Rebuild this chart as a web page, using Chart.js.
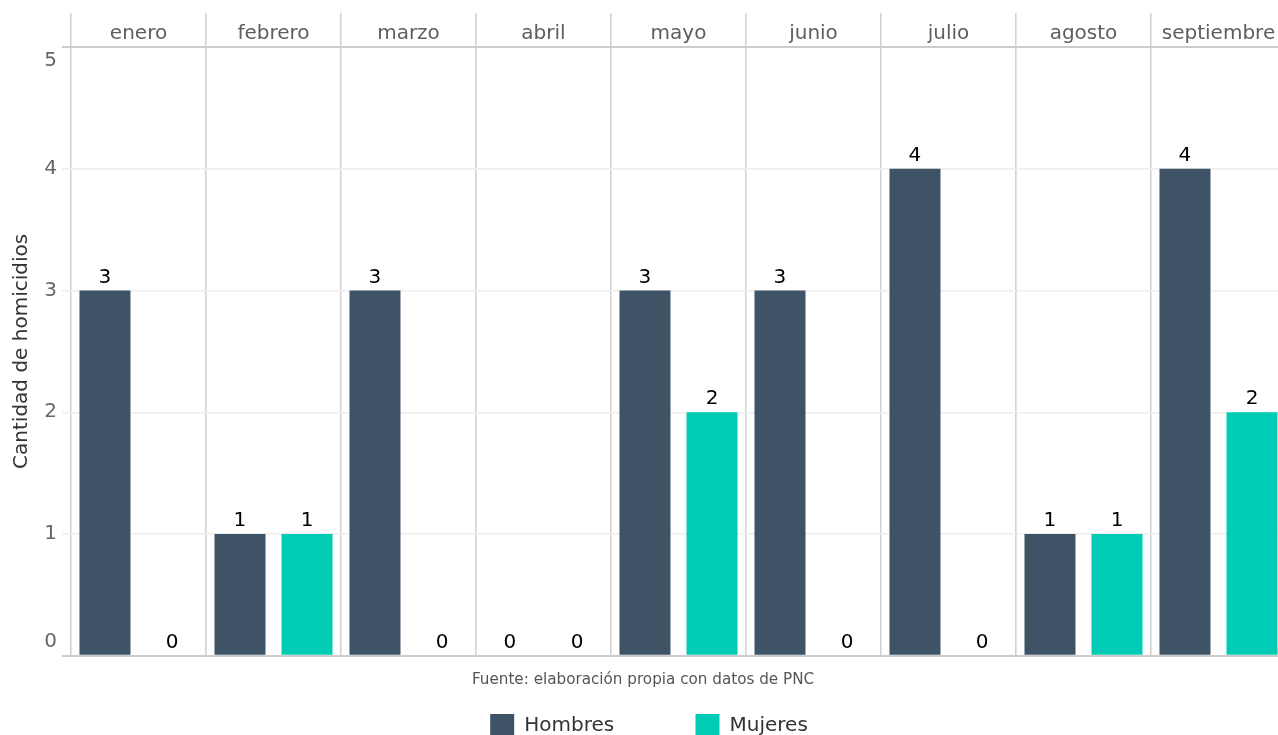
<!DOCTYPE html>
<html><head><meta charset="utf-8">
<script src="https://cdn.jsdelivr.net/npm/chart.js@4.4.0/dist/chart.umd.min.js"></script>
<style>html,body{margin:0;padding:0;overflow:hidden;background:#fff;}canvas{display:block;}</style>
</head><body>
<canvas id="c" width="1286" height="748"></canvas>
<script>
const meses = ['enero','febrero','marzo','abril','mayo','junio','julio','agosto','septiembre'];
const hombres = [3,1,3,0,3,3,4,1,4];
const mujeres = [0,1,0,0,2,0,0,1,2];
const seriesNames = ['Hombres','Mujeres'];
const seriesColors = ['#3E5366','#00CBB5'];
const yMin = 0, yMax = 5, yStep = 1;
const yTitle = 'Cantidad de homicidios';
const caption = 'Fuente: elaboración propia con datos de PNC';

const FONT = 'DejaVu Sans';
const FS = 20;

const valueLabels = {
  id: 'valueLabels',
  afterDatasetsDraw(chart) {
    const ctx = chart.ctx;
    ctx.save();
    ctx.font = FS + 'px "' + FONT + '"';
    ctx.fillStyle = '#000';
    ctx.textAlign = 'center';
    ctx.textBaseline = 'alphabetic';
    chart.data.datasets.forEach((ds, i) => {
      chart.getDatasetMeta(i).data.forEach((bar, j) => {
        ctx.fillText(String(ds.data[j]), bar.x, bar.y - 8);
      });
    });
    ctx.restore();
  }
};

const legendShift = {
  id: 'legendShift',
  afterLayout(chart) {
    if (chart.legend) { chart.legend.left += 6; chart.legend.right += 6; }
  }
};

new Chart(document.getElementById('c'), {
  type: 'bar',
  data: {
    labels: meses,
    datasets: [
      { label: seriesNames[0], data: hombres, backgroundColor: seriesColors[0], borderWidth: 0 },
      { label: seriesNames[1], data: mujeres, backgroundColor: seriesColors[1], borderWidth: 0 }
    ]
  },
  options: {
    responsive: false,
    animation: false,
    devicePixelRatio: 1,
    barPercentage: 0.761,
    categoryPercentage: 0.993,
    layout: { padding: { top: 13, left: 0, right: 0, bottom: 0 } },
    scales: {
      x: {
        type: 'category',
        position: 'top',
        offset: true,
        border: { display: false },
        grid: { offset: true, color: '#d2d2d2', lineWidth: 1.6, drawTicks: true, tickLength: 34 },
        ticks: { font: { family: FONT, size: FS }, color: '#5e5e5e', padding: -33, maxRotation: 0, autoSkip: false },
        afterFit: (s) => { s.height = 34; }
      },
      y: {
        min: yMin, max: yMax,
        border: { display: false },
        grid: {
          color: (c) => (c.tick && (c.tick.value === yMin || c.tick.value === yMax)) ? '#cccccc' : '#eeeeee',
          lineWidth: (c) => (c.tick && (c.tick.value === yMin || c.tick.value === yMax)) ? 2 : 1.5,
          tickLength: 9
        },
        ticks: {
          stepSize: yStep,
          font: { family: FONT, size: FS, lineHeight: 1.35 },
          color: '#666666',
          padding: 5,
          callback: (v) => v === yMin ? [String(v), ''] : (v === yMax ? ['', String(v)] : String(v))
        },
        title: { display: true, text: yTitle, font: { family: FONT, size: FS }, color: '#333333', padding: { top: 10, bottom: 0 } },
        afterFit: (s) => { s.width = 71; }
      }
    },
    plugins: {
      tooltip: { enabled: false },
      title: {
        display: true, text: caption, position: 'bottom', weight: 500, fullSize: true,
        font: { family: FONT, size: 15.2, weight: 'normal' }, color: '#555555',
        padding: { top: 15, bottom: 15 }
      },
      legend: {
        position: 'bottom',
        labels: {
          font: { family: FONT, size: FS }, color: '#333333',
          boxWidth: 24, boxHeight: 24, padding: 10,
          generateLabels(chart) {
            const items = Chart.defaults.plugins.legend.labels.generateLabels(chart);
            items[0].text = items[0].text + '\u2003\u2003\u2003 \u2005';
            return items;
          }
        }
      }
    }
  },
  plugins: [valueLabels, legendShift]
});
</script>
</body></html>
